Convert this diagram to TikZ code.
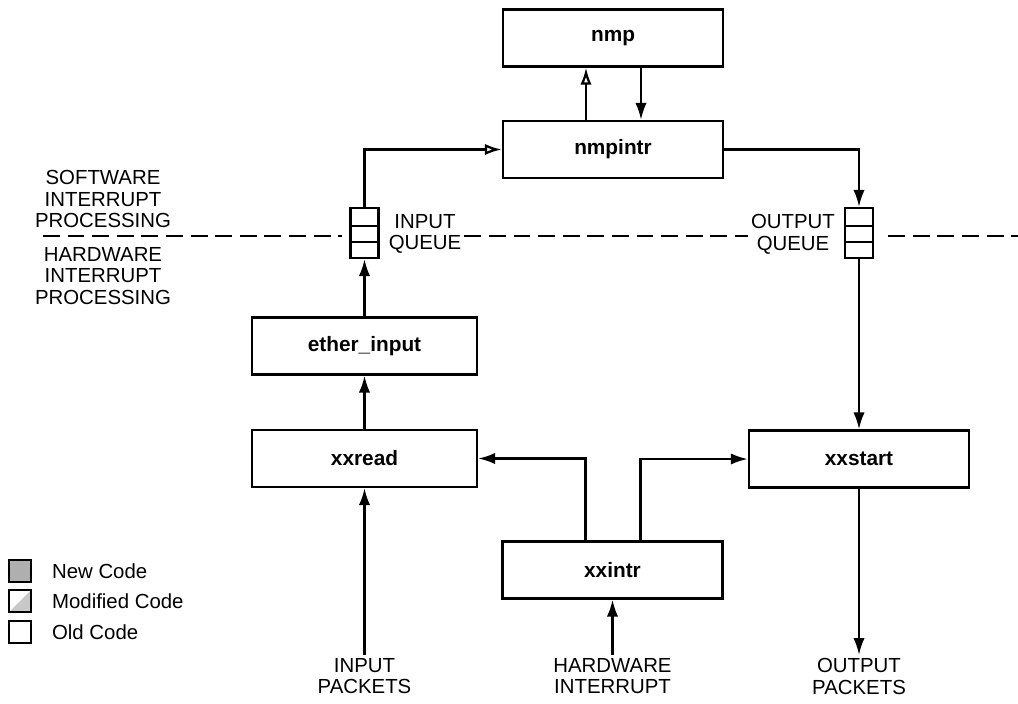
\documentclass[tikz,border=0pt]{standalone}
\usepackage{fontspec}
\setmainfont{Liberation Sans}
\usepackage{tikz}
\usetikzlibrary{arrows.meta,calc}
\usepackage{xcolor}
\definecolor{newgray}{RGB}{175,175,175}
\definecolor{modgray}{RGB}{200,200,200}
\tikzstyle{func} = [rectangle, draw, line width=1.8pt, minimum width=5.5cm, minimum height=1.42cm, font=\fontsize{14.8}{16}\selectfont\bfseries]
\tikzstyle{queue} = [rectangle, draw, line width=1.6pt, minimum width=0.7cm, minimum height=1.25cm, inner sep=0pt]
\tikzstyle{caps} = [align=center, inner sep=2pt, font=\fontsize{14.5}{15.5}\selectfont]
\tikzstyle{legendbox} = [rectangle, draw, line width=1.6pt, minimum size=0.55cm, inner sep=0pt]
\tikzstyle{arrow} = [line width=1.6pt, -{Latex[length=12pt,width=8pt]}]
\tikzstyle{openarrow} = [line width=1.6pt, -{Latex[open,length=12pt,width=8pt]}]
\tikzstyle{divider} = [line width=2pt, dash pattern=on 12pt off 5.5pt]

\begin{document}
\begin{tikzpicture}[x=0.025cm, y=-0.025cm]
    \useasboundingbox (0,0) rectangle (1018,703);

    % Routines
    \node[func] (nmp) at (613, 38) {nmp};
    \node[func] (nmpintr) at (613, 149.5) {nmpintr};
    \node[func, minimum width=5.62cm] (etherinput) at (364.5, 346) {ether\_input};
    \node[func, minimum width=5.62cm] (xxread) at (364.5, 458.5) {xxread};
    \node[func] (xxstart) at (859, 459) {xxstart};
    \node[func] (xxintr) at (612.5, 570) {xxintr};

    % Queues
    \node[queue] (inq) at (364.5, 233) {};
    \node[queue] (outq) at (859, 233) {};
    \foreach \q in {inq, outq} {
        \draw[line width=1.4pt] ($(\q.north west)!0.36!(\q.south west)$) -- ($(\q.north east)!0.36!(\q.south east)$);
        \draw[line width=1.4pt] ($(\q.north west)!0.68!(\q.south west)$) -- ($(\q.north east)!0.68!(\q.south east)$);
    }
    \node[caps] (inqlabel) at (425, 234) {INPUT\\QUEUE};
    \node[caps] (outqlabel) at (793, 234) {OUTPUT\\QUEUE};

    % Software / hardware boundary
    \coordinate (divleft) at (43, 236);
    \coordinate (divright) at (1018, 236);
    \draw[divider] (divleft) -- ([xshift=-5pt]inq.west|-divleft);
    \draw[divider] (inqlabel.east|-divleft) -- (outqlabel.west|-divleft);
    \draw[divider] ([xshift=10pt]outq.east|-divright) -- (divright);
    \node[caps] (swlabel) at (103, 199) {SOFTWARE\\INTERRUPT\\PROCESSING};
    \node[caps] (hwlabel) at (103, 276) {HARDWARE\\INTERRUPT\\PROCESSING};

    % External events
    \node[caps, anchor=north] (inpackets) at (364.5, 655) {INPUT\\PACKETS};
    \node[caps, anchor=north] (hwint) at (612.5, 655) {HARDWARE\\INTERRUPT};
    \node[caps, anchor=north] (outpackets) at (859, 655) {OUTPUT\\PACKETS};

    % Flow
    \draw[arrow] (inpackets) -- (xxread);
    \draw[arrow] (xxread) -- (etherinput);
    \draw[arrow] (etherinput) -- (inq);
    \draw[openarrow] (inq.north) |- (nmpintr.west);
    \draw[openarrow] ($(nmpintr.north)+(-27,0)$) -- ($(nmp.south)+(-27,0)$);
    \draw[arrow] ($(nmp.south)+(28,0)$) -- ($(nmpintr.north)+(28,0)$);
    \draw[arrow] (nmpintr.east) -| (outq.north);
    \draw[arrow] (outq) -- (xxstart);
    \draw[arrow] ($(xxintr.north)+(-27,0)$) |- (xxread.east);
    \draw[arrow] ($(xxintr.north)+(28,0)$) |- (xxstart.west);
    \draw[arrow] (hwint) -- (xxintr);
    \draw[arrow] (xxstart) -- (outpackets);

    % Legend
    \node[legendbox, fill=newgray] (newsq) at (20, 571) {};
    \node[legendbox, path picture={\fill[modgray] (path picture bounding box.north east) -- (path picture bounding box.south east) -- (path picture bounding box.south west) -- cycle;}] (modsq) at (20, 601) {};
    \node[legendbox] (oldsq) at (20, 632) {};
    \node[caps, anchor=west] (newtext) at (49, 571) {New Code};
    \node[caps, anchor=west] (modtext) at (49, 601) {Modified Code};
    \node[caps, anchor=west] (oldtext) at (49, 632) {Old Code};
\end{tikzpicture}
\end{document}
